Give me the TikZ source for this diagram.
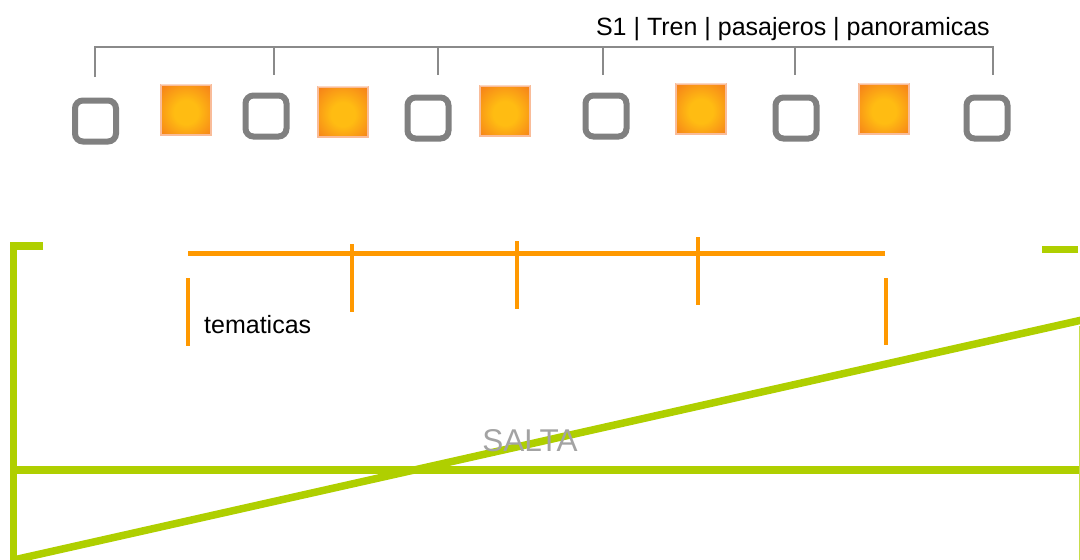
\documentclass[tikz,border=0pt]{standalone}
\usepackage{fontspec}
\setmainfont{Liberation Sans}
\definecolor{brgray}{HTML}{8A8A8A}
\definecolor{boxgray}{HTML}{808080}
\definecolor{lime}{HTML}{AFCF00}
\definecolor{tangerine}{HTML}{FF9900}
\definecolor{sunin}{HTML}{FFBC12}
\definecolor{sunout}{HTML}{F26A1C}
\definecolor{saltagray}{HTML}{A3A3A3}
\pgfdeclareradialshading{sunshade}{\pgfpoint{0bp}{-3bp}}{color(0bp)=(sunin); color(12bp)=(sunin); color(44bp)=(sunout); color(50bp)=(sunout)}
\begin{document}
\begin{tikzpicture}[x=1pt,y=-1pt,
  graybox/.style={draw=boxgray,line width=6pt,rounded corners=8pt,fill=white,minimum size=41pt,inner sep=0pt},
  sunbox/.style={shading=sunshade,minimum size=50pt,inner sep=0pt,
     draw=sunout!45,line width=2pt},
  bracket/.style={draw=brgray,line width=1.6pt},
  orangeline/.style={draw=tangerine,line width=4.5pt},
  limeline/.style={draw=lime,line width=7.5pt},
  bigtext/.style={font=\fontsize{25}{30}\selectfont,text=black,inner sep=0pt}
]
\useasboundingbox (0,0) rectangle (1080,560);
% title
\node[bigtext,anchor=base east] (title) at (990,35) {S1 | Tren | pasajeros | panoramicas};
% bracket
\coordinate (b1) at (95,47); \coordinate (b2) at (274,47); \coordinate (b3) at (438,47);
\coordinate (b4) at (603,47); \coordinate (b5) at (795,47); \coordinate (b6) at (993,47);
\coordinate (t1) at (95,77); \coordinate (t2) at (274,75); \coordinate (t3) at (438,75);
\coordinate (t4) at (603,75); \coordinate (t5) at (795,75); \coordinate (t6) at (993,75);
\draw[bracket] (t1) -- (b1) -- (b6) -- (t6);
\draw[bracket] (b2) -- (t2); \draw[bracket] (b3) -- (t3);
\draw[bracket] (b4) -- (t4); \draw[bracket] (b5) -- (t5);
% gray boxes
\node[graybox] (g1) at (95.5,121) {};
\node[graybox] (g2) at (266,116) {};
\node[graybox] (g3) at (428,118) {};
\node[graybox] (g4) at (606,116) {};
\node[graybox] (g5) at (796,118) {};
\node[graybox] (g6) at (987,118) {};
% orange boxes
\foreach \n/\x/\y in {o1/186/110,o2/343/112,o3/505/111,o4/701/109,o5/884/109}{
  \node[sunbox] (\n) at (\x,\y) {};
  \fill[white,opacity=0.42] ([xshift=1pt,yshift=-1pt]\n.north west) rectangle ([xshift=-1pt,yshift=11pt]\n.north east);
}
% orange timeline
\coordinate (ol) at (188,253.5); \coordinate (or) at (885,253.5);
\draw[orangeline] (ol) -- (or);
\coordinate (k1t) at (352,244); \coordinate (k1b) at (352,312);
\coordinate (k2t) at (517,241); \coordinate (k2b) at (517,309);
\coordinate (k3t) at (698,237); \coordinate (k3b) at (698,305);
\draw[orangeline] (k1t) -- (k1b);
\draw[orangeline] (k2t) -- (k2b);
\draw[orangeline] (k3t) -- (k3b);
\coordinate (v1t) at (188,278); \coordinate (v1b) at (188,346);
\coordinate (v2t) at (886,278); \coordinate (v2b) at (886,345);
\draw[orangeline] (v1t) -- (v1b);
\draw[orangeline] (v2t) -- (v2b);
\node[bigtext,anchor=base west] (tem) at (204,333) {tematicas};
% lime lines
\coordinate (ltl) at (43,246); \coordinate (lc) at (13.5,246); \coordinate (lb) at (13.5,560);
\draw[limeline,line cap=butt] (ltl) -- (lc) -- (lb);
\coordinate (tr1) at (1042,249.5); \coordinate (tr2) at (1078,249.5);
\draw[limeline] (tr1) -- (tr2);
\coordinate (hl) at (13.5,470); \coordinate (hr) at (1080,470);
\draw[limeline] (hl) -- (hr);
\coordinate (dl) at (13.5,560); \coordinate (dr) at (1082,320);
\draw[limeline] (dl) -- (dr);
\coordinate (rt) at (1079.3,326); \coordinate (rb) at (1079.3,560);
\draw[draw=lime!70,line width=1pt] (rt) -- (rb);
\node[font=\fontsize{31.5}{35}\selectfont,text=saltagray,inner sep=0pt,anchor=base] (salta) at (530,451) {SALTA};
\end{tikzpicture}
\end{document}
